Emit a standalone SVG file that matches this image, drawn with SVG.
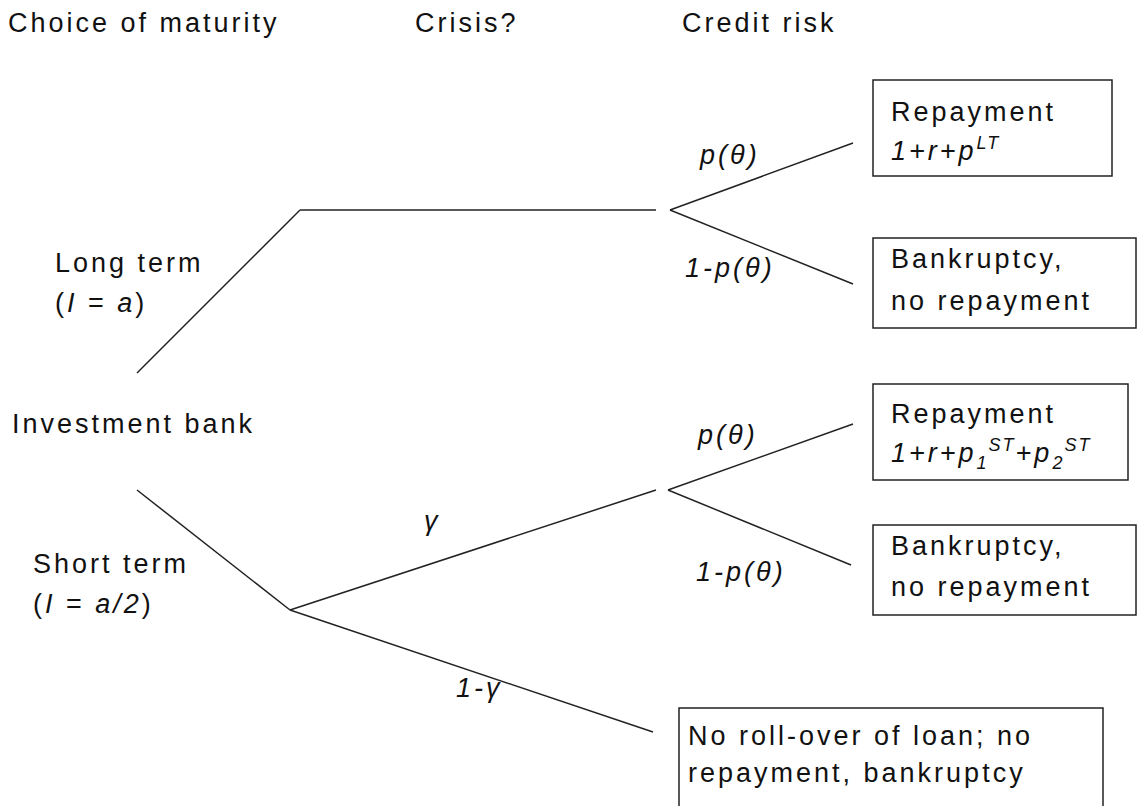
<svg xmlns="http://www.w3.org/2000/svg" width="1140" height="806" viewBox="0 0 1140 806">
<style>
text{font-family:"Liberation Sans",Arial,sans-serif;font-size:27px;fill:#111;letter-spacing:3px}
.i{font-style:italic}
.s{font-size:18px;letter-spacing:2px}
line{stroke:#222;stroke-width:1.5;fill:none}
rect{fill:#fff;stroke:#222;stroke-width:1.5}
</style>
<rect x="0" y="0" width="1140" height="806" style="stroke:none"/>
<g id="headers">
<text x="8" y="32">Choice of maturity</text>
<text x="415" y="32">Crisis?</text>
<text x="682" y="32">Credit risk</text>
</g>
<g id="connectors">
<line x1="137" y1="373" x2="300" y2="210"/>
<line x1="300" y1="210" x2="656" y2="210"/>
<line x1="670" y1="210" x2="853" y2="143"/>
<line x1="670" y1="210" x2="853" y2="284"/>
<line x1="137" y1="490" x2="290" y2="610"/>
<line x1="290" y1="610" x2="656" y2="490"/>
<line x1="668" y1="490" x2="853" y2="424"/>
<line x1="668" y1="490" x2="851" y2="565"/>
<line x1="290" y1="610" x2="653" y2="732"/>
</g>
<g id="edge-labels">
<text class="i" x="700" y="164">p(θ)</text>
<text class="i" x="685" y="277">1-p(θ)</text>
<text class="i" x="698" y="444">p(θ)</text>
<text class="i" x="696" y="581">1-p(θ)</text>
<text class="i" x="424" y="530">γ</text>
<text class="i" x="456" y="697">1-γ</text>
</g>
<g id="investment-bank">
<text x="12" y="433">Investment bank</text>
</g>
<g id="long-term">
<text x="55" y="272">Long term</text>
<text x="55" y="312">(<tspan class="i">I</tspan> = <tspan class="i">a</tspan>)</text>
</g>
<g id="short-term">
<text x="33" y="573">Short term</text>
<text x="33" y="613">(<tspan class="i">I</tspan> = <tspan class="i">a/2</tspan>)</text>
</g>
<g id="repay-lt">
<rect x="873" y="80" width="239" height="96"/>
<text x="891" y="121">Repayment</text>
<text class="i" x="891" y="160">1+r+p<tspan class="s" dy="-11">LT</tspan></text>
</g>
<g id="bankrupt-lt">
<rect x="873" y="238" width="263" height="90"/>
<text x="891" y="268">Bankruptcy,</text>
<text x="891" y="310">no repayment</text>
</g>
<g id="repay-st">
<rect x="873" y="384" width="255" height="96"/>
<text x="891" y="423">Repayment</text>
<text class="i" x="891" y="462">1+r+p<tspan class="s" dy="7">1</tspan><tspan class="s" dy="-18">ST</tspan><tspan dy="11">+p</tspan><tspan class="s" dy="7">2</tspan><tspan class="s" dy="-18">ST</tspan></text>
</g>
<g id="bankrupt-st">
<rect x="873" y="525" width="263" height="90"/>
<text x="891" y="555">Bankruptcy,</text>
<text x="891" y="596">no repayment</text>
</g>
<g id="no-rollover">
<rect x="679" y="708" width="424" height="112"/>
<text x="688" y="745">No roll-over of loan; no</text>
<text x="688" y="782">repayment, bankruptcy</text>
</g>
</svg>
